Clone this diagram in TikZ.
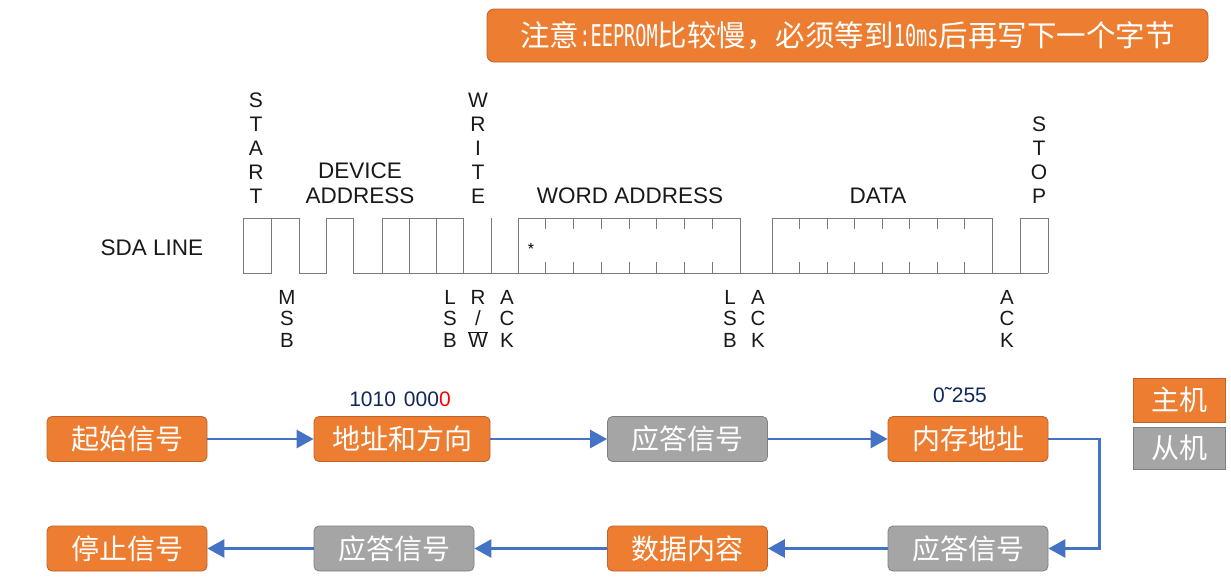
\documentclass[tikz,border=0pt]{standalone}
\usepackage{fontspec}
\usepackage{graphicx}
\setmainfont{Liberation Sans}
\newfontfamily\cjk{Noto Sans CJK SC}
\newfontfamily\monolatin{DejaVu Sans Mono}
\usetikzlibrary{arrows.meta,positioning}

\definecolor{boxorange}{HTML}{ED7D31}
\definecolor{orangeedge}{HTML}{C0622A}
\definecolor{boxgray}{HTML}{A5A5A5}
\definecolor{grayedge}{HTML}{808080}
\definecolor{flowblue}{HTML}{4472C4}
\definecolor{wavegray}{HTML}{7A7A7A}
\definecolor{labelnavy}{HTML}{10285A}

\newcommand\narrowlatin[1]{\scalebox{0.62}[1]{\monolatin\fontsize{30}{30}\selectfont #1}}

\tikzset{
  master/.style={draw=orangeedge, fill=boxorange, rounded corners=5pt, line width=0.8pt,
    minimum width=160pt, minimum height=45pt, inner sep=0pt, text=white,
    font=\cjk\fontsize{28}{28}\selectfont},
  slave/.style={master, draw=grayedge, fill=boxgray},
  flow/.style={flowblue, line width=2.8pt, -{Triangle[length=17pt,width=18pt]}},
  wave/.style={wavegray, line width=1pt},
  toplabel/.style={align=center, inner sep=0pt, text=black!90, font=\fontsize{21}{24}\selectfont},
  sublabel/.style={align=center, inner sep=0pt, text=black!90, font=\fontsize{20.5}{21.5}\selectfont},
  hlabel/.style={align=center, inner sep=0pt, text=black!90, font=\fontsize{22.5}{25}\selectfont},
  bits/.style={inner sep=0pt, text=labelnavy, font=\fontsize{21}{21}\selectfont}
}

\begin{document}
\begin{tikzpicture}[x=1pt,y=-1pt]
    \path[fill=white, use as bounding box] (0,0) rectangle (1231,587);

    % --- Note ---
    \node[master, minimum width=721pt, minimum height=53pt, rounded corners=7pt,
      font=\cjk\fontsize{29.5}{29.5}\selectfont] (note) at (847.5,35.5)
      {注意\narrowlatin{:EEPROM}比较慢，必须等到\narrowlatin{10ms}后再写下一个字节};

    % --- SDA waveform ---
    \draw[wave] (243,273) -- (243,218) -- (299,218) -- (299,273) -- (326,273) -- (326,218)
      -- (353,218) -- (353,273) -- (382,273) -- (382,218) -- (463,218) -- (463,273)
      -- (518,273) -- (518,218) -- (740,218) -- (740,273) -- (772,273) -- (772,218)
      -- (992,218) -- (992,273) -- (1020,273) -- (1020,218) -- (1048,218) -- (1048,273);
    \draw[wave] (243,273) -- (271,273) -- (271,218);
    \draw[wave] (353,273) -- (1048,273);
    \draw[wave] (409,218) -- (409,273);
    \draw[wave] (436,218) -- (436,273);
    \draw[wave] (491,218) -- (491,273);
    \foreach \k in {1,...,7} {
      \draw[wave] (518+27.75*\k,218) -- ++(0,11);
      \draw[wave] (518+27.75*\k,273) -- ++(0,-11);
      \draw[wave] (772+27.5*\k,218) -- ++(0,11);
      \draw[wave] (772+27.5*\k,273) -- ++(0,-11);
    }
    \node[inner sep=0pt, font=\fontsize{16}{16}\selectfont] (star) at (531,249) {*};

    % --- Field labels ---
    \node[hlabel] (sda) at (152,247.5) {SDA LINE};
    \node[toplabel, anchor=south] (startlbl) at (256,204) {S\\T\\A\\R\\T};
    \node[hlabel, anchor=south] (devlbl) at (360,204) {DEVICE\\ADDRESS};
    \node[toplabel, anchor=south] (writelbl) at (478,204) {W\\R\\I\\T\\E};
    \node[hlabel, anchor=south] (wordlbl) at (630,204) {WORD ADDRESS};
    \node[hlabel, anchor=south] (datalbl) at (878,204) {DATA};
    \node[toplabel, anchor=south] (stoplbl) at (1039,204) {S\\T\\O\\P};

    % --- Bit labels ---
    \node[sublabel, anchor=north] (msb) at (287,290) {M\\S\\B};
    \node[sublabel, anchor=north] (lsbA) at (450,290) {L\\S\\B};
    \node[sublabel, anchor=north] (rw) at (478,290) {R\\/\\$\overline{\mbox{W}}$};
    \node[sublabel, anchor=north] (ackA) at (507,290) {A\\C\\K};
    \node[sublabel, anchor=north] (lsbB) at (730,290) {L\\S\\B};
    \node[sublabel, anchor=north] (ackB) at (758,290) {A\\C\\K};
    \node[sublabel, anchor=north] (ackC) at (1007,290) {A\\C\\K};

    % --- Flow ---
    \node[master] (start) at (127,439) {起始信号};
    \node[master, minimum width=176pt] (addr) at (402,439) {地址和方向};
    \node[slave] (answerA) at (687.5,439) {应答信号};
    \node[master] (mem) at (968,439) {内存地址};
    \node[slave] (answerB) at (968,548.5) {应答信号};
    \node[master] (data) at (687.5,548.5) {数据内容};
    \node[slave] (answerC) at (394,548.5) {应答信号};
    \node[master] (stop) at (127,548.5) {停止信号};

    \node[bits, above=9pt of addr, xshift=-2pt] (addrbits) {1010\hspace{8pt}000\textcolor{red}{0}};
    \node[bits, above=13pt of mem, xshift=-8pt] (membits) {0\char"02DC 255};

    \draw[flow] (start) -- (addr);
    \draw[flow] (addr) -- (answerA);
    \draw[flow] (answerA) -- (mem);
    \draw[flow] (mem.east) -| ([xshift=51pt]answerB.east) -- (answerB.east);
    \draw[flow] (answerB) -- (data);
    \draw[flow] (data) -- (answerC);
    \draw[flow] (answerC) -- (stop);

    % --- Legend ---
    \node[master, sharp corners, minimum width=92pt, minimum height=44pt] (keymaster) at (1179,400) {主机};
    \node[slave, sharp corners, minimum width=92pt, minimum height=42pt] (keyslave) at (1179,448) {从机};
\end{tikzpicture}
\end{document}
